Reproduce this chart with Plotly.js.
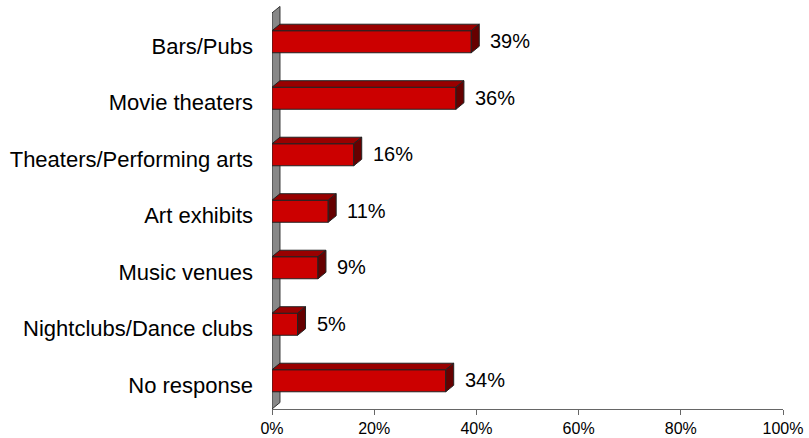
<!DOCTYPE html>
<html>
<head>
<meta charset="utf-8">
<script src="https://cdn.plot.ly/plotly-3.0.1.min.js"></script>
<style>html,body{margin:0;padding:0;background:#fff;}#chart{width:809px;height:438px;}</style>
</head>
<body>
<div id="chart"></div>
<script>
const categories = ['Bars/Pubs', 'Movie theaters', 'Theaters/Performing arts', 'Art exhibits', 'Music venues', 'Nightclubs/Dance clubs', 'No response'];
const values = [39, 36, 16, 11, 9, 5, 34];
const xTickVals = [0, 20, 40, 60, 80, 100];
const xTickText = ['0%', '20%', '40%', '60%', '80%', '100%'];

const FONT = 'Arial, "Liberation Sans", sans-serif';
const n = categories.length;
const positions = categories.map((c, i) => n - 1 - i);

// geometry of the 3D look (in axis units)
const X_RANGE = [0, 100];
const Y_RANGE = [-0.42, 6.73];
const BAR_W = 0.39, BAR_OFF = -0.115;
const DX = 1.56;   // depth in x (percent units, ~8px)
const DY = 0.115;  // depth in y (category units, ~6.5px)

const shapes = [];
// gray side wall
const wallTop = 6.59;
shapes.push({
  type: 'path', xref: 'x', yref: 'y', layer: 'below',
  path: `M 0,${Y_RANGE[0]} L 0,${wallTop} L ${DX},${wallTop + DY} L ${DX},${Y_RANGE[0] + DY} Z`,
  fillcolor: '#888888', line: {color: '#333', width: 1}
});

values.forEach((v, i) => {
  const y0 = positions[i] + BAR_OFF, y1 = y0 + BAR_W;
  // top face
  shapes.push({
    type: 'path', xref: 'x', yref: 'y', layer: 'above',
    path: `M 0,${y1} L ${v},${y1} L ${v + DX},${y1 + DY} L ${DX},${y1 + DY} Z`,
    fillcolor: '#990000', line: {color: '#222', width: 1}
  });
  // side face
  shapes.push({
    type: 'path', xref: 'x', yref: 'y', layer: 'above',
    path: `M ${v},${y0} L ${v},${y1} L ${v + DX},${y1 + DY} L ${v + DX},${y0 + DY} Z`,
    fillcolor: '#660000', line: {color: '#222', width: 1}
  });
});

const annotations = values.map((v, i) => ({
  x: v, y: positions[i], xref: 'x', yref: 'y',
  text: v + '%', showarrow: false, xanchor: 'left', yanchor: 'middle',
  xshift: 17, yshift: 5,
  font: {family: FONT, size: 20, color: '#000'}
}));

const trace = {
  type: 'bar', orientation: 'h',
  x: values, y: positions,
  width: BAR_W, offset: BAR_OFF,
  marker: {color: '#cc0000', line: {color: '#222', width: 1}},
  hoverinfo: 'skip'
};

const layout = {
  width: 809, height: 438,
  margin: {l: 272, r: 26, t: 5, b: 29},
  paper_bgcolor: '#fff', plot_bgcolor: 'rgba(0,0,0,0)',
  showlegend: false,
  font: {family: FONT, color: '#000'},
  xaxis: {
    range: X_RANGE, tickvals: xTickVals, ticktext: xTickText,
    showgrid: false, zeroline: false,
    showline: true, linecolor: '#666', linewidth: 1,
    ticks: 'outside', ticklen: 5, tickcolor: '#666',
    tickfont: {family: FONT, size: 16, color: '#000'}
  },
  yaxis: {
    range: Y_RANGE, tickvals: positions, ticktext: categories,
    showgrid: false, zeroline: false, showline: false,
    ticks: '', ticklabelstandoff: 18,
    tickfont: {family: FONT, size: 22, color: '#000'}
  },
  shapes: shapes,
  annotations: annotations
};

Plotly.newPlot('chart', [trace], layout, {displayModeBar: false, staticPlot: true});
</script>
</body>
</html>
